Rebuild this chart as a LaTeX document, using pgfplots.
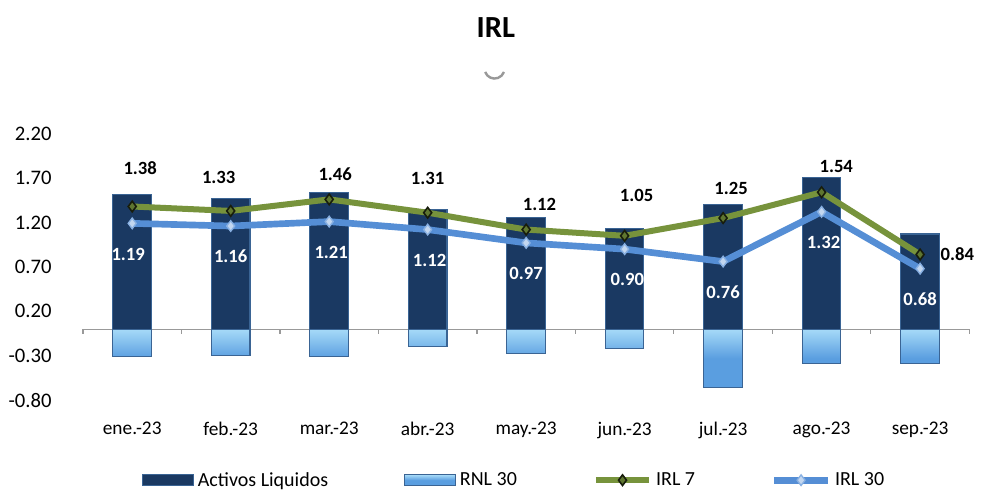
\documentclass[border=0pt]{standalone}
\usepackage{fontspec}
\setmainfont{Carlito}
\usepackage{pgfplots}
\usepackage{pgfplotstable}
\pgfplotsset{compat=1.18}
\definecolor{navy}{HTML}{1A3962}
\definecolor{navyedge}{HTML}{3A6494}
\definecolor{lightb}{HTML}{5A9EE0}
\definecolor{lightt}{HTML}{A6DAF8}
\definecolor{irlgreen}{HTML}{77933C}
\definecolor{irlblue}{HTML}{558ED5}
\pgfplotsset{
  barlegend/.style={legend image code/.code={\draw[##1] (0pt,-4pt) rectangle (38pt,4pt);}},
  linelegend/.style={legend image code/.code={\draw[##1, mark repeat=2, mark phase=2] plot coordinates {(0pt,0pt) (20pt,0pt) (40pt,0pt)};}},
}
\pgfplotstableread{
x a r i7 i30 dx7 dy7 dx30
0 1.52 -0.31 1.38 1.19 6 29 -3
1 1.47 -0.30 1.33 1.16 -9 25 0
2 1.54 -0.31 1.46 1.21 4.5 19 1.5
3 1.35 -0.20 1.31 1.12 0 25.5 1.5
4 1.26 -0.27 1.12 0.97 10 19 0
5 1.13 -0.22 1.05 0.90 9 30 2
6 1.40 -0.66 1.25 0.76 6 22.5 0
7 1.71 -0.39 1.54 1.32 11 19.5 1.5
8 1.07 -0.39 0.84 0.68 28 0 0
}\data
\begin{document}
\begin{tikzpicture}
\path[use as bounding box] (0,0) rectangle (745pt,367pt);
\node[font=\fontsize{23}{27}\selectfont\bfseries] at (372pt,346.5pt) {IRL};
\draw[gray!80, line width=1.8pt] (364pt,313pt) arc[start angle=200, end angle=340, radius=7.5pt];
\begin{axis}[
  at={(62.25pt,66.75pt)}, anchor=south west,
  scale only axis, width=665pt, height=200pt,
  xmin=-0.5, xmax=8.5, ymin=-0.8, ymax=2.2,
  clip=false,
  axis line style={draw=none},
  major tick length=0pt,
  xtick={0,...,8},
  xticklabels={ene.-23,feb.-23,mar.-23,abr.-23,may.-23,jun.-23,jul.-23,ago.-23,sep.-23},
  xticklabel style={font=\fontsize{14.5}{17}\selectfont, yshift=-13pt},
  ytick={-0.8,-0.3,0.2,0.7,1.2,1.7,2.2},
  yticklabel={\pgfmathprintnumber[fixed,fixed zerofill,precision=2]{\tick}},
  yticklabel style={font=\fontsize{15.5}{18}\selectfont, xshift=-20pt},
  /pgf/number format/assume math mode=true,
  legend columns=4,
  legend style={at={(0.0665,-0.30)}, anchor=west, draw=none, fill=none,
    inner xsep=0pt, font=\fontsize{15}{18}\selectfont,
    /tikz/every odd column/.append style={column sep=1pt},
    /tikz/every even column/.append style={column sep=55pt}},
  legend cell align=left,
]
\draw[gray!80, line width=0.9pt] (axis cs:-0.5,0) -- (axis cs:8.5,0);
\pgfplotsinvokeforeach{-0.5,0.5,1.5,2.5,3.5,4.5,5.5,6.5,7.5,8.5}{
  \draw[gray!80, line width=0.9pt] (axis cs:#1,0) -- (axis cs:#1,-0.05);
}
\addplot[ybar, bar width=29pt, bar shift=0pt, draw=navyedge, line width=0.8pt,
  fill=navy, barlegend]
  table[x=x, y=a] {\data};
\addlegendentry{Activos Liquidos}
\addplot[ybar, bar width=29pt, bar shift=0pt, draw=navyedge, line width=0.8pt,
  top color=lightt, bottom color=lightb, middle color=lightb,
  barlegend]
  table[x=x, y=r] {\data};
\addlegendentry{RNL 30}
\addplot[irlgreen, line width=4.5pt, mark=diamond*, mark size=4pt,
  mark options={fill=irlgreen!80!black, draw=black!80!irlgreen, line width=1.2pt},
  linelegend,
  nodes near coords={\pgfmathprintnumber[fixed,fixed zerofill,precision=2]{\pgfplotspointmeta}},
  point meta=explicit,
  visualization depends on={\thisrow{dx7} \as \dxs},
  visualization depends on={\thisrow{dy7} \as \dys},
  every node near coord/.append style={anchor=center, xshift=\dxs pt, yshift=\dys pt,
    text=black, font=\fontsize{14}{17}\selectfont\bfseries}]
  table[x=x, y=i7, meta=i7] {\data};
\addlegendentry{IRL 7}
\addplot[irlblue, line width=5pt, mark=diamond*, mark size=4pt,
  mark options={fill=irlblue!35!white, draw=irlblue!70!white, line width=1pt},
  linelegend,
  nodes near coords={\pgfmathprintnumber[fixed,fixed zerofill,precision=2]{\pgfplotspointmeta}},
  point meta=explicit,
  visualization depends on={\thisrow{dx30} \as \dxt},
  every node near coord/.append style={anchor=center, xshift=\dxt pt, yshift=-23pt,
    text=white, font=\fontsize{14}{17}\selectfont\bfseries}]
  table[x=x, y=i30, meta=i30] {\data};
\addlegendentry{IRL 30}
\end{axis}
\end{tikzpicture}
\end{document}
